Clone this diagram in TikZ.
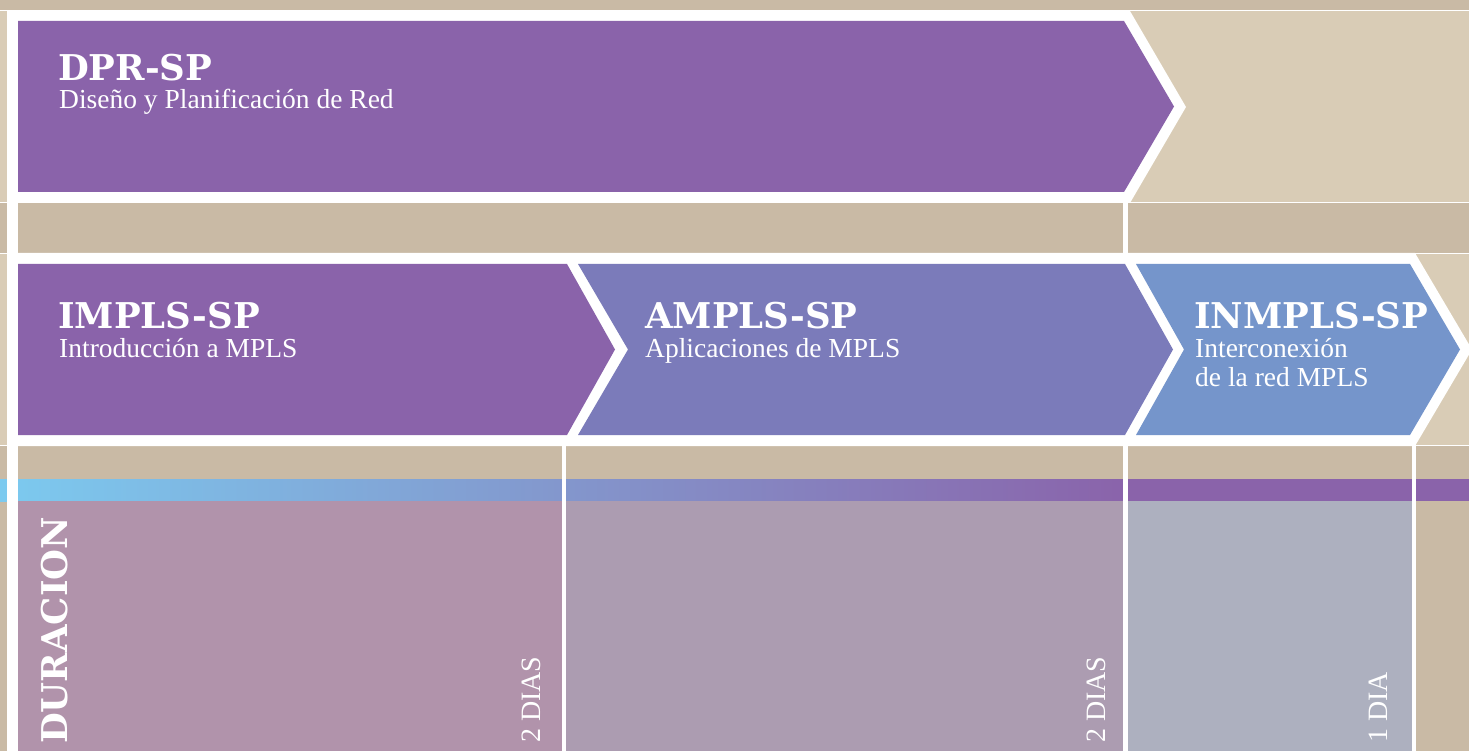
\documentclass[tikz,border=0pt]{standalone}
\usepackage{fontspec}
\newfontfamily\titlefont{DejaVu Serif}
\newfontfamily\subfont{Liberation Serif}
\definecolor{tanD}{HTML}{C9BAA5}
\definecolor{tanL}{HTML}{D9CCB6}
\definecolor{purp}{HTML}{8A63AA}
\definecolor{ampls}{HTML}{7B7BBA}
\definecolor{inmpls}{HTML}{7595CB}
\definecolor{colA}{HTML}{B193AB}
\definecolor{colB}{HTML}{AC9CB1}
\definecolor{colC}{HTML}{ADB0BF}
\definecolor{bandL}{HTML}{7CCAEF}
\definecolor{bandM}{HTML}{889FD0}
\tikzset{
  titletext/.style={text=white, inner sep=0pt, font=\titlefont\bfseries\fontsize{35.5}{40}\selectfont},
  subtext/.style={text=white, inner sep=0pt, font=\subfont\fontsize{27.5}{30}\selectfont},
  daytext/.style={text=white, inner sep=0pt, rotate=90, font=\subfont\fontsize{28}{30}\selectfont},
  whiteline/.style={white, line width=1pt}
}
\begin{document}
\begin{tikzpicture}[x=1pt,y=-1pt]
\useasboundingbox (0,0) rectangle (1469,751);
% background bands
\fill[tanD] (0,0) rectangle (1469,751);
\fill[tanL] (0,11) rectangle (1469,203);
\fill[tanL] (0,253) rectangle (1469,446);
\draw[whiteline] (0,11) -- (1469,11);
\draw[whiteline] (0,203) -- (1469,203);
\draw[whiteline] (0,253.5) -- (1469,253.5);
\draw[whiteline] (0,445.5) -- (1469,445.5);
% white outlines of the arrows
\fill[white] (7,11) -- (1130,11) -- (1186,107) -- (1130,203) -- (7,203) -- cycle;
\fill[white] (7,253) -- (1415,253) -- (1472,349.5) -- (1415,446) -- (7,446) -- cycle;
% bottom gradient band
\shade[left color=bandL, middle color=bandM, right color=purp] (0,479) rectangle (1128,501);
\fill[purp] (1127,479) rectangle (1469,501);
% duration columns
\fill[colA] (18,501) rectangle (562,751);
\fill[colB] (566,501) rectangle (1123,751);
\fill[colC] (1128,501) rectangle (1412,751);
% white vertical bars
\fill[white] (7,11) rectangle (18,751);
\fill[white] (562,446) rectangle (566,751);
\fill[white] (1123,203) rectangle (1128,253);
\fill[white] (1123,446) rectangle (1128,751);
\fill[white] (1412,446) rectangle (1416,751);
% arrows
\fill[purp] (18,21) -- (1124,21) -- (1174,106.5) -- (1124,192) -- (18,192) -- cycle;
\fill[purp] (18,264) -- (567,264) -- (615,349.5) -- (567,435) -- (18,435) -- cycle;
\fill[ampls] (578,264) -- (1125,264) -- (1173,349.5) -- (1125,435) -- (578,435) -- (628,349.5) -- cycle;
\fill[inmpls] (1136,264) -- (1410,264) -- (1460,349.5) -- (1410,435) -- (1136,435) -- (1184,349.5) -- cycle;
% texts
\node[titletext, anchor=base west] (dprT) at (58,81) {DPR-SP};
\node[subtext, anchor=base west] (dprS) at (59,109) {Diseño y Planificación de Red};
\node[titletext, anchor=base west] (impT) at (58,328) {IMPLS-SP};
\node[subtext, anchor=base west] (impS) at (59,357) {Introducción a MPLS};
\node[titletext, anchor=base west] (ampT) at (645,328) {AMPLS-SP};
\node[subtext, anchor=base west] (ampS) at (645,357) {Aplicaciones de MPLS};
\node[titletext, anchor=base west] (inmT) at (1194,328) {INMPLS-SP};
\node[subtext, anchor=base west] (inmS1) at (1195,357) {Interconexión};
\node[subtext, anchor=base west] (inmS2) at (1195,386) {de la red MPLS};
\node[titletext, rotate=90, anchor=base west] (dur) at (67,744) {DURACION};
\node[daytext, anchor=base west] (day1) at (540,743) {2 DIAS};
\node[daytext, anchor=base west] (day2) at (1105,743) {2 DIAS};
\node[daytext, anchor=base west] (day3) at (1387,743) {1 DIA};
\end{tikzpicture}
\end{document}
